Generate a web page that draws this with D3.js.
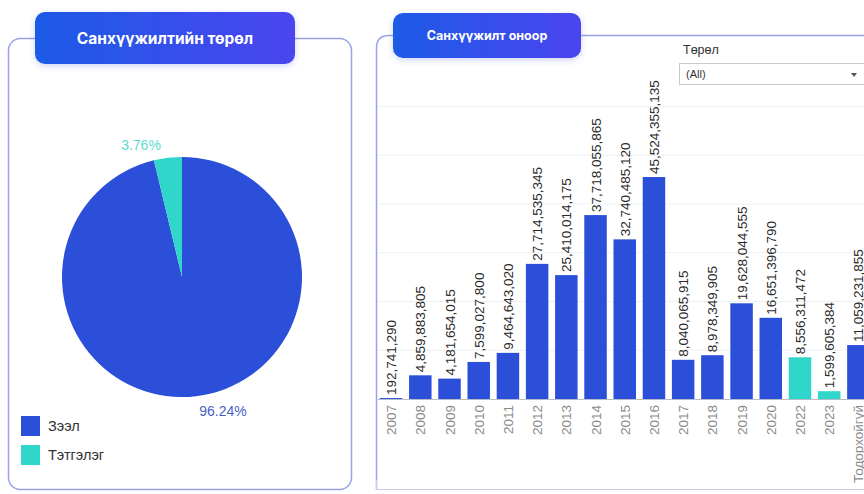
<!DOCTYPE html>
<html>
<head>
<meta charset="utf-8">
<script src="https://cdn.jsdelivr.net/npm/d3@7"></script>
<style>
  html, body { margin: 0; padding: 0; background: #ffffff; }
  svg { display: block; font-family: "Liberation Sans", Arial, sans-serif; }
</style>
</head>
<body>
<svg id="chart" width="864" height="494"></svg>
<script>
// ---------- data ----------
const pieCategories = ["Зээл", "Тэтгэлэг"];
const pieShares = [96.24, 3.76];
const pieLabels = ["96.24%", "3.76%"];

const years = ["2007","2008","2009","2010","2011","2012","2013","2014","2015","2016","2017","2018","2019","2020","2022","2023","Тодорхойгүй"];
const amounts = [192741290, 4859883805, 4181654015, 7599027800, 9464643020, 27714535345, 25410014175, 37718055865, 32740485120, 45524355135, 8040065915, 8978349905, 19628044555, 16651396790, 8556311472, 1599605384, 11059231855];
const amountType = ["Зээл","Зээл","Зээл","Зээл","Зээл","Зээл","Зээл","Зээл","Зээл","Зээл","Зээл","Зээл","Зээл","Зээл","Тэтгэлэг","Тэтгэлэг","Зээл"];
const gridTicks = [10e9, 20e9, 30e9, 40e9, 50e9, 60e9];

const colors = { "Зээл": "#2b4fd9", "Тэтгэлэг": "#2fd6c9" };

const svg = d3.select("#chart");
const defs = svg.append("defs");
const grad = defs.append("linearGradient").attr("id", "badgeGrad").attr("x1", "0%").attr("x2", "100%");
grad.append("stop").attr("offset", "0%").attr("stop-color", "#1d5be6");
grad.append("stop").attr("offset", "100%").attr("stop-color", "#4b44ef");
const shadow = defs.append("filter").attr("id", "shadow").attr("x", "-20%").attr("y", "-30%").attr("width", "140%").attr("height", "170%");
shadow.append("feDropShadow").attr("dx", 0).attr("dy", 2).attr("stdDeviation", 3).attr("flood-color", "#3b4fd0").attr("flood-opacity", 0.25);
const clip = defs.append("clipPath").attr("id", "rightClip");
clip.append("rect").attr("x", 377).attr("y", 36).attr("width", 487).attr("height", 452);

// ---------- left panel ----------
svg.append("rect").attr("x", 8.5).attr("y", 38.5).attr("width", 343).attr("height", 451)
  .attr("rx", 12).attr("fill", "none").attr("stroke", "#9aa3e6").attr("stroke-width", 1.5);
svg.append("rect").attr("x", 35).attr("y", 12).attr("width", 260).attr("height", 52)
  .attr("rx", 10).attr("fill", "url(#badgeGrad)").attr("filter", "url(#shadow)");
svg.append("text").attr("x", 165).attr("y", 44).attr("text-anchor", "middle")
  .attr("fill", "#ffffff").attr("font-size", 15.5).attr("font-weight", "bold")
  .attr("font-family", "Inter, 'Noto Sans', sans-serif")
  .text("Санхүүжилтийн төрөл");

// pie: Зээл starts at top going clockwise, Тэтгэлэг closes back to top
const pieData = pieCategories.map((c, i) => ({ cat: c, value: pieShares[i], label: pieLabels[i] }));
const pie = d3.pie().value(d => d.value).sort(null).startAngle(0).endAngle(2 * Math.PI);
const arcs = pie(pieData);
const R = 120;
const arc = d3.arc().innerRadius(0).outerRadius(R);
const pg = svg.append("g").attr("transform", "translate(182,277)");
pg.selectAll("path").data(arcs).enter().append("path")
  .attr("d", arc).attr("fill", d => colors[d.data.cat]);

// pie labels
svg.append("text").attr("x", 141).attr("y", 150).attr("text-anchor", "middle")
  .attr("font-size", 14).attr("fill", "#5edbd1").text(pieLabels[1]);
svg.append("text").attr("x", 223).attr("y", 416).attr("text-anchor", "middle")
  .attr("font-size", 14).attr("fill", "#4a5fc6").text(pieLabels[0]);

// legend
const lg = svg.append("g");
pieCategories.forEach((c, i) => {
  lg.append("rect").attr("x", 21).attr("y", 416 + i * 29).attr("width", 19).attr("height", 20)
    .attr("fill", colors[c]);
  lg.append("text").attr("x", 48).attr("y", 431 + i * 29).attr("font-size", 14.5)
    .attr("fill", "#333").text(c);
});

// ---------- right panel ----------
svg.append("path")
  .attr("d", "M376.5,489.5 L376.5,48 Q376.5,35.5 389,35.5 L870,35.5")
  .attr("fill", "none").attr("stroke", "#9aa3e6").attr("stroke-width", 1.5);
svg.append("path")
  .attr("d", "M376.5,480 L376.5,489.5 L864,489.5")
  .attr("fill", "none").attr("stroke", "#c7cdf0").attr("stroke-width", 1);

const rg = svg.append("g").attr("clip-path", "url(#rightClip)");

const x = d3.scaleBand().domain(years).range([376.5, 873]).paddingInner(0.23).paddingOuter(0.115);
const y = d3.scaleLinear().domain([0, 60e9]).range([399, 106.44]);

// gridlines
rg.selectAll("line.grid").data(gridTicks).enter().append("line")
  .attr("x1", 378).attr("x2", 864).attr("y1", d => y(d)).attr("y2", d => y(d))
  .attr("stroke", "#eef0f3").attr("stroke-width", 1);

// bars
const barData = years.map((yr, i) => ({ yr, v: amounts[i], t: amountType[i] }));
rg.selectAll("rect.bar").data(barData).enter().append("rect")
  .attr("x", d => x(d.yr)).attr("width", x.bandwidth())
  .attr("y", d => y(d.v)).attr("height", d => y(0) - y(d.v))
  .attr("fill", d => colors[d.t]);

// baseline
rg.append("line").attr("x1", 378).attr("x2", 864).attr("y1", 399.5).attr("y2", 399.5)
  .attr("stroke", "#b8bcc6").attr("stroke-width", 1);

// value labels
rg.selectAll("text.val").data(barData).enter().append("text")
  .attr("transform", d => `translate(${x(d.yr) + x.bandwidth() / 2 + 5},${y(d.v) - 3}) rotate(-90)`)
  .attr("text-anchor", "start").attr("font-size", 13.5).attr("fill", "#2a2a2a")
  .text(d => d3.format(",")(d.v));

// x axis labels
const xAxis = d3.axisBottom(x).tickSize(0).tickPadding(0);
const ax = rg.append("g").attr("transform", "translate(0,399)").call(xAxis);
ax.select(".domain").remove();
ax.selectAll("text")
  .attr("transform", "translate(5,6) rotate(-90)")
  .attr("text-anchor", "end").attr("dy", 0).attr("y", 0).attr("x", 0)
  .attr("font-size", 13.5).attr("fill", "#8a8a8a")
  .attr("font-family", "'Liberation Sans', Arial, sans-serif");

// badge
svg.append("rect").attr("x", 393).attr("y", 13).attr("width", 188).attr("height", 45)
  .attr("rx", 10).attr("fill", "url(#badgeGrad)").attr("filter", "url(#shadow)");
svg.append("text").attr("x", 487).attr("y", 40).attr("text-anchor", "middle")
  .attr("fill", "#ffffff").attr("font-size", 12.5).attr("font-weight", "bold")
  .attr("font-family", "Inter, 'Noto Sans', sans-serif")
  .text("Санхүүжилт оноор");

// filter dropdown
svg.append("text").attr("x", 683).attr("y", 54).attr("font-size", 12.5).attr("fill", "#333").text("Төрөл");
svg.append("rect").attr("x", 679.5).attr("y", 63.5).attr("width", 190).attr("height", 21)
  .attr("fill", "#fff").attr("stroke", "#c9c9c9");
svg.append("text").attr("x", 686).attr("y", 78).attr("font-size", 11).attr("fill", "#333").text("(All)");
svg.append("path").attr("d", "M851,73 L857,73 L854,77 Z").attr("fill", "#555");
</script>
</body>
</html>
